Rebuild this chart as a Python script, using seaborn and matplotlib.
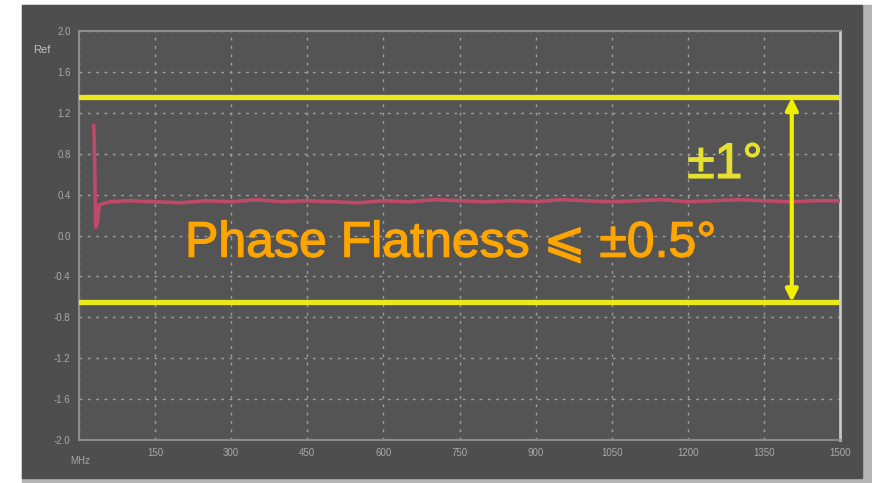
import matplotlib
matplotlib.use('Agg')
import matplotlib.pyplot as plt
import matplotlib.patches as patches
import matplotlib.patheffects as pe
import seaborn as sns

# Datos (fase en grados frente a frecuencia en MHz)
frecuencia = [29, 30, 33, 36, 40, 60, 100, 150, 200, 250, 300, 350, 400, 450,
              500, 550, 600, 650, 700, 750, 800, 850, 900, 950, 1000, 1050,
              1100, 1150, 1200, 1250, 1300, 1350, 1400, 1450, 1500]
fase = [1.08, 0.95, 0.08, 0.12, 0.30, 0.33, 0.34, 0.33, 0.32, 0.34, 0.33,
        0.35, 0.33, 0.34, 0.33, 0.32, 0.34, 0.33, 0.35, 0.34, 0.33, 0.34,
        0.33, 0.35, 0.34, 0.33, 0.34, 0.35, 0.33, 0.34, 0.35, 0.34, 0.33,
        0.34, 0.34]

y_ticks = [-2.0, -1.6, -1.2, -0.8, -0.4, 0.0, 0.4, 0.8, 1.2, 1.6, 2.0]
y_labels = ['-2.0', '-1.6', '-1.2', '-0.8', '-0.4', '0.0', '0.4', '0.8', '1.2', '1.6', '2.0']
x_ticks = [0, 150, 300, 450, 600, 750, 900, 1050, 1200, 1350, 1500]
x_labels = ['', '150', '300', '450', '600', '750', '900', '1050', '1200', '1350', '1500']

limite_sup = 1.35
limite_inf = -0.65

sns.set_style('dark')
plt.rcParams['font.family'] = ['Liberation Sans', 'DejaVu Sans']

fig = plt.figure(figsize=(8.72, 4.83), dpi=100, facecolor='white')

# Marco gris claro y panel oscuro de la pantalla del instrumento
fig.patches.append(patches.Rectangle((22 / 872, 0), 850 / 872, 478 / 483,
                                     transform=fig.transFigure, color='#b4b4b4', zorder=-2))
fig.patches.append(patches.Rectangle((22 / 872, 5 / 483), 840 / 872, 473 / 483,
                                     transform=fig.transFigure, color='#4e4e4e', zorder=-1))

ax = fig.add_axes([79 / 872, 43 / 483, 761 / 872, 409 / 483])
ax.set_facecolor('#545454')

sns.lineplot(x=frecuencia, y=fase, ax=ax, color='#c04868', lw=2.6, zorder=3)

ax.set_xlim(0, 1500)
ax.set_ylim(-2.0, 2.0)
ax.set_xticks(x_ticks)
ax.set_xticklabels(x_labels)
ax.set_yticks(y_ticks)
ax.set_yticklabels(y_labels)
ax.tick_params(colors='#a8a8a8', labelsize=7, length=0, pad=6)

ax.grid(True, color='#a0a0a0', linestyle=(0, (2, 4)), lw=1)
for lado in ['left', 'top', 'bottom']:
    ax.spines[lado].set_visible(True)
    ax.spines[lado].set_color('#8c8c8c')
    ax.spines[lado].set_linewidth(1.5)
ax.spines['right'].set_visible(True)
ax.spines['right'].set_color('#c8c8c8')
ax.spines['right'].set_linewidth(2)

# Límites de ±1° en amarillo
ax.axhline(limite_sup, color='#ece81a', lw=3.8, zorder=4)
ax.axhline(limite_inf, color='#ece81a', lw=3.8, zorder=4)
ax.annotate('', xy=(1405, limite_sup), xytext=(1405, limite_inf),
            arrowprops=dict(arrowstyle='<|-|>', color='#f2ee00', lw=3,
                            mutation_scale=18, shrinkA=0, shrinkB=0), zorder=5)

grueso_am = [pe.withStroke(linewidth=0.9, foreground='#e6e030')]
grueso_na = [pe.withStroke(linewidth=0.9, foreground='#ffa500')]
ax.text(1273, 0.69, '±1°', color='#e6e030', fontsize=36, ha='center', va='center',
        zorder=5, path_effects=grueso_am)
ax.text(209, -0.08, 'Phase Flatness ⩽ ±0.5°', color='#ffa500', fontsize=36,
        ha='left', va='center', zorder=5, path_effects=grueso_na)

fig.text(42 / 872, 1 - 50 / 483, 'Ref', color='#c0c0c0', fontsize=8, ha='center', va='center')
fig.text(80 / 872, 1 - 461 / 483, 'MHz', color='#a8a8a8', fontsize=7, ha='center', va='center')

plt.savefig('out.png', dpi=100)
plt.close()
